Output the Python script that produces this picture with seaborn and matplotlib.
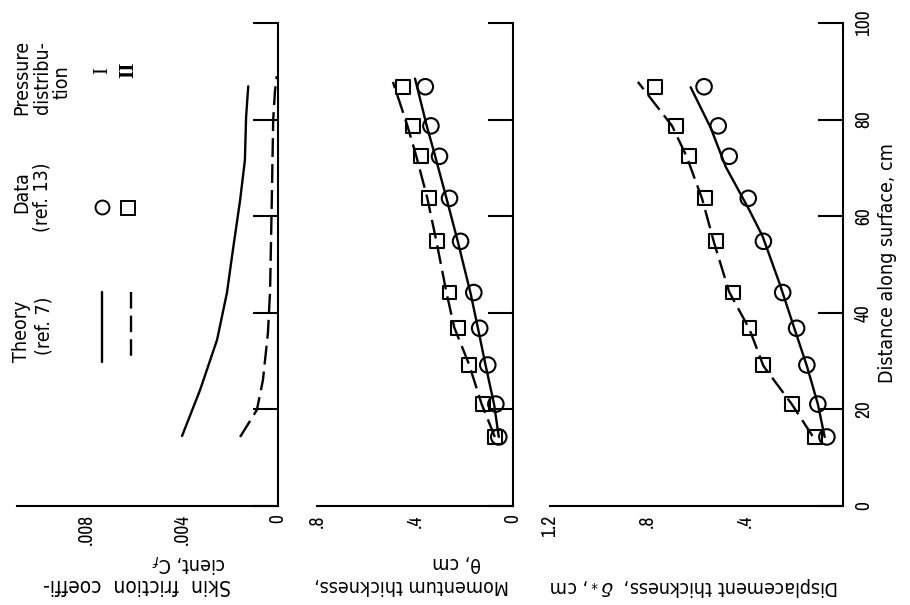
import os
import matplotlib
matplotlib.use("Agg")
import matplotlib.pyplot as plt
from matplotlib import font_manager
from matplotlib.font_manager import FontProperties
from matplotlib.lines import Line2D
import seaborn as sns

# ---------------------------------------------------------------- data
# measurement stations, cm along the surface (data of ref. 13)
station_cm = [14.3, 21.1, 29.2, 36.8, 44.2, 54.8, 63.7, 72.4, 78.7, 86.8]

# momentum thickness theta, cm
theta_data_I = [0.058, 0.070, 0.103, 0.136, 0.160, 0.214, 0.259, 0.300, 0.335, 0.358]
theta_data_II = [0.074, 0.123, 0.181, 0.226, 0.259, 0.309, 0.342, 0.376, 0.407, 0.449]

# displacement thickness delta*, cm
dstar_data_I = [0.066, 0.103, 0.148, 0.190, 0.247, 0.326, 0.388, 0.466, 0.511, 0.569]
dstar_data_II = [0.115, 0.210, 0.326, 0.383, 0.450, 0.520, 0.565, 0.631, 0.685, 0.771]

# theory (ref. 7), skin friction coefficient
cf_theory_I_cm = [14.5, 24.0, 34.4, 44.1, 53.0, 63.3, 71.6, 80.5, 86.9]
cf_theory_I = [0.0040, 0.00325, 0.00254, 0.00213, 0.00188, 0.00158, 0.00138, 0.00133, 0.00124]
cf_theory_II_cm = [14.3, 19.9, 26.0, 35.8, 44.6, 63.0, 80.0, 86.0, 89.0]
cf_theory_II = [0.00158, 0.00088, 0.00063, 0.00042, 0.00033, 0.00026, 0.00020, 0.000125, 0.00005]

# theory, momentum thickness
theta_theory_I_cm = [14.3, 21.0, 29.4, 36.8, 44.0, 54.7, 63.8, 72.5, 78.7, 88.5]
theta_theory_I = [0.058, 0.077, 0.113, 0.143, 0.173, 0.225, 0.272, 0.318, 0.352, 0.400]
theta_theory_II_cm = [14.3, 21.1, 29.4, 37.0, 44.3, 54.9, 63.8, 72.5, 78.9, 87.8]
theta_theory_II = [0.074, 0.128, 0.180, 0.240, 0.272, 0.313, 0.350, 0.395, 0.432, 0.490]

# theory, displacement thickness
dstar_theory_I_cm = [14.3, 21.1, 29.0, 36.6, 46.1, 55.8, 61.3, 70.2, 78.2, 86.7]
dstar_theory_I = [0.075, 0.103, 0.148, 0.198, 0.260, 0.329, 0.384, 0.480, 0.541, 0.624]
dstar_theory_II_cm = [14.5, 21.1, 29.0, 36.6, 44.3, 54.5, 63.6, 72.3, 78.7, 87.8]
dstar_theory_II = [0.125, 0.210, 0.326, 0.383, 0.466, 0.528, 0.577, 0.640, 0.700, 0.840]

distance_ticks = [0, 20, 40, 60, 80, 100]
cf_ticks = [0.008, 0.004, 0.0]
cf_ticklabels = [".008", ".004", "0"]
theta_ticks = [0.8, 0.4, 0.0]
theta_ticklabels = [".8", ".4", "0"]
dstar_ticks = [1.2, 0.8, 0.4]
dstar_ticklabels = ["1.2", ".8", ".4"]

# ---------------------------------------------------------------- style
sns.set_theme(style="white")
plt.rcParams["font.family"] = ["DejaVu Sans"]
plt.rcParams["mathtext.fontset"] = "dejavusans"


def font_path(*basenames):
    for f in font_manager.fontManager.ttflist:
        if os.path.basename(f.fname) in basenames:
            return f.fname
    return None


def narrow_path():
    p = font_path("LiberationSansNarrow-Regular.ttf")
    if p:
        return p
    for f in font_manager.fontManager.ttflist:
        if "Narrow" in f.name and f.weight in (400, "normal") and f.style == "normal":
            return f.fname
    return None


_cond = font_path("DejaVuSansCondensed.ttf")
_narrow = narrow_path()


def text_font(size):
    if _cond:
        return FontProperties(fname=_cond, size=size)
    return FontProperties(family="DejaVu Sans", stretch="condensed", size=size)


def digit_font():
    if _narrow:
        return FontProperties(fname=_narrow, size=14)
    return text_font(12)


W, H = 910, 605
fig = plt.figure(figsize=(W / 100, H / 100), dpi=100)
fig.patch.set_facecolor("white")


def px_axes(x0, x1, y_top, y_bot):
    return fig.add_axes([x0 / W, 1 - y_bot / H, (x1 - x0) / W, (y_bot - y_top) / H])


def fx(x):
    return x / W


def fy(y):
    return 1 - y / H


LW = 1.7
DASH = (0, (8, 3))
ax_cf = px_axes(17, 278, 23, 506)
ax_th = px_axes(317, 513, 23, 506)
ax_ds = px_axes(550, 843, 23, 506)

panels = [
    (ax_cf, 0.01088, cf_ticks, cf_ticklabels),
    (ax_th, 0.8, theta_ticks, theta_ticklabels),
    (ax_ds, 1.2, dstar_ticks, dstar_ticklabels),
]

for ax, vmax, ticks, labels in panels:
    ax.set_facecolor("white")
    ax.set_xlim(vmax, 0)
    ax.set_ylim(0, 100)
    for side in ("top", "left"):
        ax.spines[side].set_visible(False)
    for side in ("bottom", "right"):
        ax.spines[side].set_visible(True)
        ax.spines[side].set_color("black")
        ax.spines[side].set_linewidth(1.5)
    ax.yaxis.tick_right()
    ax.set_yticks(distance_ticks)
    ax.set_xticks(ticks)
    ax.set_xticklabels(labels)
    ax.tick_params(axis="both", direction="in", length=18, width=1.5,
                   color="black", labelcolor="black")
    ax.tick_params(axis="x", pad=6, labelrotation=90)
    ax.tick_params(axis="y", labelright=False, labelleft=False, pad=8)
    for lbl in ax.get_xticklabels():
        lbl.set_fontproperties(digit_font())
    ax.grid(False)

ax_ds.tick_params(axis="y", labelright=True, labelrotation=90)
for lbl in ax_ds.get_yticklabels():
    lbl.set_fontproperties(digit_font())
    lbl.set_va("center")

# ---------------------------------------------------------------- curves
sns.lineplot(x=cf_theory_I, y=cf_theory_I_cm, sort=False, estimator=None,
             color="black", lw=LW, ax=ax_cf)
sns.lineplot(x=cf_theory_II, y=cf_theory_II_cm, sort=False, estimator=None,
             color="black", lw=LW, linestyle=DASH, ax=ax_cf)

sns.lineplot(x=theta_theory_I, y=theta_theory_I_cm, sort=False, estimator=None,
             color="black", lw=LW, ax=ax_th)
sns.lineplot(x=theta_theory_II, y=theta_theory_II_cm, sort=False, estimator=None,
             color="black", lw=LW, linestyle=DASH, ax=ax_th)

sns.lineplot(x=dstar_theory_I, y=dstar_theory_I_cm, sort=False, estimator=None,
             color="black", lw=LW, ax=ax_ds)
sns.lineplot(x=dstar_theory_II, y=dstar_theory_II_cm, sort=False, estimator=None,
             color="black", lw=LW, linestyle=DASH, ax=ax_ds)

for ax, vals_I, vals_II in [(ax_th, theta_data_I, theta_data_II),
                            (ax_ds, dstar_data_I, dstar_data_II)]:
    sns.scatterplot(x=vals_II, y=station_cm, marker="s", s=100, color="none",
                    edgecolor="black", linewidth=1.5, ax=ax, zorder=3)
    sns.scatterplot(x=vals_I, y=station_cm, marker="o", s=125, color="none",
                    edgecolor="black", linewidth=1.5, ax=ax, zorder=3)

for ax in (ax_cf, ax_th, ax_ds):
    ax.set_xlabel("")
    ax.set_ylabel("")
    ax.set_xlim(ax.get_xlim())
    ax.set_ylim(0, 100)

# ---------------------------------------------------------------- labels
def label(x, y, s, rot, size=14, ha="center"):
    fig.text(fx(x), fy(y), s, rotation=rot, rotation_mode="anchor",
             ha=ha, va="baseline", fontproperties=text_font(size), color="black")


# quantity labels (rotated with the sheet)
label(137, 579, "Skin  friction  coeffi-", 180, size=15)
label(188, 557, "cient, C$_f$", 180)
label(412, 580, "Momentum thickness,", 180)
label(457, 557, "θ, cm", 180)
label(695, 581, "Displacement thickness,  $\\delta_*$, cm", 180)
label(893, 263, "Distance along surface, cm", 90)

# key
label(27, 331, "Theory", 90)
label(50, 326, "(ref. 7)", 90)
label(27, 192, "Data", 90)
label(48, 197, "(ref. 13)", 90)
label(27, 77, "Pressure", 90)
label(48, 78, "distribu-", 90)
label(67, 82, "tion", 90)

roman = font_path("LiberationSerif-Regular.ttf")
roman_b = font_path("LiberationSerif-Bold.ttf")
fp_I = FontProperties(fname=roman, size=15) if roman else FontProperties(family="serif", size=15)
fp_II = FontProperties(fname=roman_b, size=15) if roman_b else FontProperties(family="serif", weight="bold", size=15)
fig.text(fx(103), fy(70), "I", rotation=90, ha="center", va="center",
         fontproperties=fp_I, color="black")
fig.text(fx(128), fy(70), "II", rotation=90, ha="center", va="center",
         fontproperties=fp_II, color="black")

fig.add_artist(Line2D([fx(102), fx(102)], [fy(292), fy(362)], color="black",
                      lw=LW, transform=fig.transFigure))
fig.add_artist(Line2D([fx(131), fx(131)], [fy(292), fy(362)], color="black",
                      lw=LW, linestyle=(0, (7, 3)), transform=fig.transFigure))
fig.add_artist(Line2D([fx(102)], [fy(207)], marker="o", ms=10, mfc="none",
                      mec="black", mew=1.4, ls="none", transform=fig.transFigure))
fig.add_artist(Line2D([fx(128)], [fy(208)], marker="s", ms=9.5, mfc="none",
                      mec="black", mew=1.4, ls="none", transform=fig.transFigure))

fig.savefig("out.png", dpi=100, facecolor="white")
